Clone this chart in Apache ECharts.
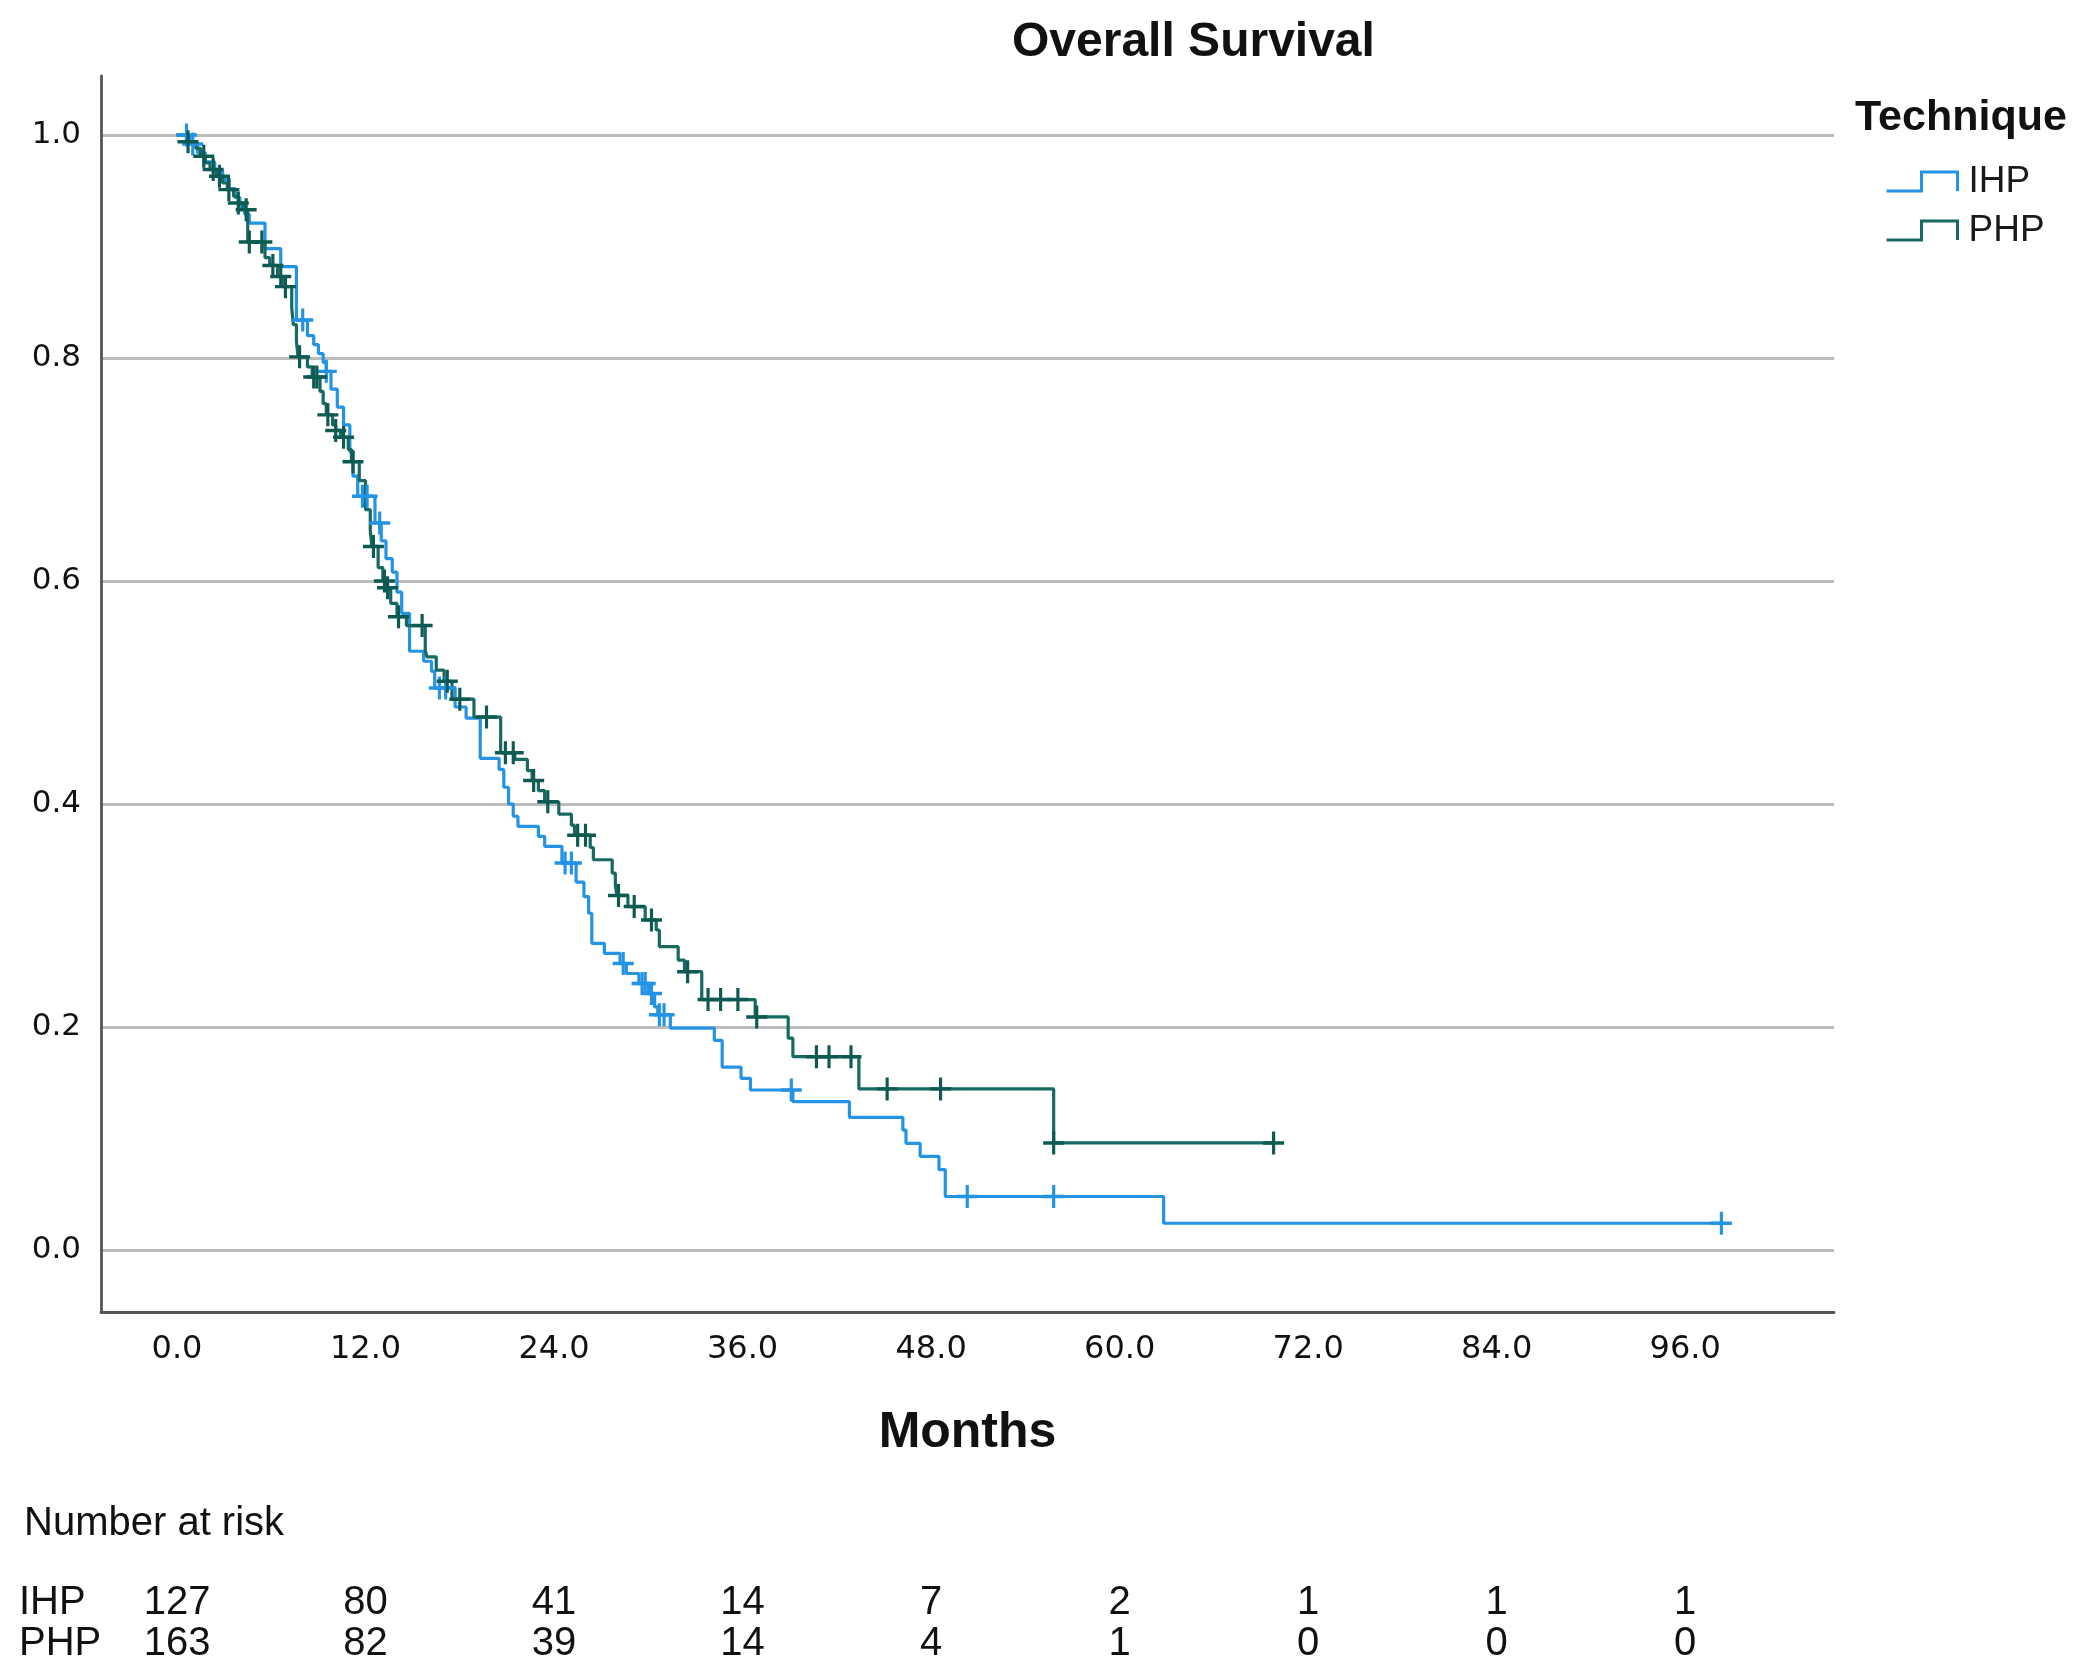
<!DOCTYPE html>
<html>
<head>
<meta charset="utf-8">
<script src="https://cdn.jsdelivr.net/npm/echarts@6/dist/echarts.min.js"></script>
<style>
html,body{margin:0;padding:0;background:#fff;}
#chart{width:2084px;height:1670px;}
</style>
</head>
<body>
<div id="chart"></div>
<script>
// ---- data ----
const timeTicks = [0, 12, 24, 36, 48, 60, 72, 84, 96];
const survTicks = [0, 0.2, 0.4, 0.6, 0.8, 1.0];
const groups = ['IHP', 'PHP'];

// Kaplan-Meier steps: [month, survival after event]
const ihpSteps = [
  [0,1],[0.8,0.992],[1.3,0.984],[1.8,0.976],[2.4,0.968],[2.9,0.960],[3.3,0.952],[3.7,0.944],
  [4.0,0.936],[4.3,0.929],[4.6,0.921],[5.6,0.898],[6.6,0.882],[7.6,0.834],[8.3,0.820],[8.7,0.812],
  [9.0,0.804],[9.3,0.796],[9.5,0.788],[9.8,0.772],[10.2,0.756],[10.6,0.740],[11.0,0.716],[11.2,0.694],
  [11.5,0.676],[12.6,0.652],[13.0,0.636],[13.3,0.620],[13.7,0.608],[14.0,0.590],[14.3,0.571],[14.8,0.537],
  [15.7,0.528],[16.2,0.519],[16.4,0.504],[17.7,0.487],[18.4,0.477],[19.3,0.441],[20.5,0.431],[20.8,0.415],
  [21.1,0.400],[21.4,0.389],[21.7,0.380],[23.0,0.371],[23.4,0.362],[24.5,0.347],[25.4,0.330],[25.9,0.317],
  [26.2,0.302],[26.4,0.275],[27.2,0.266],[28.2,0.257],[28.6,0.248],[29.4,0.239],[30.0,0.230],[30.4,0.218],
  [30.6,0.211],[31.4,0.199],[34.2,0.188],[34.7,0.164],[35.9,0.154],[36.5,0.1435],[39.2,0.133],[42.8,0.119],
  [46.2,0.1076],[46.4,0.0957],[47.3,0.084],[48.5,0.072],[48.9,0.048],[62.8,0.024],[98.3,0.024]
];
const ihpCensored = [
  [0.6,1.0],[1.0,0.992],[8.0,0.834],[9.5,0.788],[11.8,0.676],[12.1,0.676],[12.9,0.652],[16.7,0.504],
  [17.1,0.504],[24.7,0.347],[25.1,0.347],[28.4,0.257],[29.6,0.239],[29.8,0.239],[30.2,0.230],[30.7,0.211],
  [31.0,0.211],[39.1,0.1435],[50.3,0.048],[55.8,0.048],[98.3,0.024]
];
const phpSteps = [
  [0,1],[0.6,0.994],[1.2,0.988],[1.5,0.981],[1.8,0.975],[2.1,0.969],[2.5,0.963],[2.9,0.957],[3.2,0.951],
  [3.6,0.945],[3.9,0.939],[4.2,0.933],[4.5,0.904],[5.6,0.890],[5.9,0.883],[6.4,0.873],[6.7,0.864],[7.3,0.845],
  [7.4,0.830],[7.6,0.815],[7.7,0.801],[8.3,0.792],[8.6,0.783],[9.1,0.770],[9.3,0.759],[9.5,0.749],[9.9,0.740],
  [10.1,0.735],[10.4,0.729],[10.9,0.718],[11.1,0.707],[11.6,0.690],[12.0,0.664],[12.3,0.645],[12.4,0.631],
  [12.8,0.612],[13.1,0.600],[13.3,0.594],[13.6,0.580],[14.0,0.568],[14.6,0.560],[15.8,0.538],[15.9,0.532],
  [16.5,0.520],[17.0,0.510],[17.5,0.494],[18.9,0.478],[20.6,0.446],[21.5,0.440],[22.3,0.430],[22.6,0.421],
  [23.0,0.412],[23.4,0.402],[24.3,0.391],[25.1,0.381],[25.3,0.372],[26.3,0.361],[26.5,0.350],[27.7,0.338],
  [27.9,0.327],[28.0,0.318],[28.7,0.308],[29.8,0.296],[30.5,0.287],[30.7,0.272],[31.9,0.260],[32.3,0.2496],
  [33.4,0.2246],[36.8,0.209],[38.9,0.190],[39.2,0.1734],[43.4,0.1445],[55.8,0.096],[69.8,0.096]
];
const phpCensored = [
  [0.7,0.994],[1.7,0.981],[2.3,0.969],[2.7,0.963],[3.3,0.951],[3.9,0.939],[4.4,0.933],[4.6,0.904],[5.4,0.904],
  [6.1,0.883],[6.6,0.873],[6.9,0.864],[7.8,0.801],[8.7,0.783],[8.9,0.783],[9.6,0.749],[10.1,0.735],[10.6,0.729],
  [11.2,0.707],[12.5,0.631],[13.2,0.600],[13.4,0.594],[14.1,0.568],[15.6,0.560],[17.2,0.510],[18.0,0.494],
  [19.7,0.478],[20.9,0.446],[21.4,0.446],[22.7,0.421],[23.6,0.402],[25.5,0.372],[26.0,0.372],[28.1,0.318],
  [29.1,0.308],[30.2,0.296],[32.5,0.2496],[33.8,0.2246],[34.6,0.2246],[35.7,0.2246],[36.9,0.209],[40.7,0.1734],
  [41.5,0.1734],[42.9,0.1734],[45.2,0.1445],[48.6,0.1445],[55.8,0.096],[69.8,0.096]
];

// Number at risk, one value per time tick
const ihpAtRisk = [127, 80, 41, 14, 7, 2, 1, 1, 1];
const phpAtRisk = [163, 82, 39, 14, 4, 1, 0, 0, 0];

// ---- styling ----
const IHP_COLOR = '#2393e6';
const PHP_LINE = '#176962';
const PHP_MARK = '#0c5a52';
const TEXT = '#111111';
const CROSS = 'path://M8.5,0 L11.5,0 L11.5,8.5 L20,8.5 L20,11.5 L11.5,11.5 L11.5,20 L8.5,20 L8.5,11.5 L0,11.5 L0,8.5 L8.5,8.5 Z';
const STEP_ICON = 'path://M0,19 L35,19 L35,0 L71,0 L71,19';

const riskData = [];
timeTicks.forEach((t, i) => {
  riskData.push([t, 'IHP', ihpAtRisk[i]]);
  riskData.push([t, 'PHP', phpAtRisk[i]]);
});

const X_MIN = -4.84, X_MAX = 105.47;

const chart = echarts.init(document.getElementById('chart'), null, {renderer: 'canvas'});
chart.setOption({
  animation: false,
  backgroundColor: '#ffffff',
  title: [
    {text: 'Overall Survival', left: 1007, top: 14,
     textStyle: {fontFamily: 'Liberation Sans', fontWeight: 'bold', fontSize: 48, color: TEXT}},
    {text: 'Technique', left: 1850, top: 92,
     textStyle: {fontFamily: 'Liberation Sans', fontWeight: 'bold', fontSize: 43, color: TEXT}},
    {text: 'Number at risk', left: 19, top: 1499,
     textStyle: {fontFamily: 'Liberation Sans', fontWeight: 'normal', fontSize: 40, color: TEXT}}
  ],
  legend: {
    orient: 'vertical', left: 1880, top: 158, itemGap: 12,
    itemWidth: 71, itemHeight: 19,
    textStyle: {fontFamily: 'Liberation Sans', fontSize: 37, color: '#1a1a1a', padding: [0, 0, 0, 6]},
    data: [
      {name: 'IHP', icon: STEP_ICON, itemStyle: {color: 'rgba(0,0,0,0)', borderColor: IHP_COLOR, borderWidth: 3}},
      {name: 'PHP', icon: STEP_ICON, itemStyle: {color: 'rgba(0,0,0,0)', borderColor: PHP_LINE, borderWidth: 3}}
    ],
    selectedMode: false
  },
  grid: [
    {left: 101, right: 250, top: 76, height: 1236},
    {left: 101, right: 250, top: 1582, height: 82}
  ],
  xAxis: [
    {type: 'value', gridIndex: 0, min: X_MIN, max: X_MAX,
     name: 'Months', nameLocation: 'middle', nameGap: 96,
     nameTextStyle: {fontFamily: 'Liberation Sans', fontWeight: 'bold', fontSize: 50, color: TEXT},
     axisLine: {show: true, onZero: false, lineStyle: {color: '#555555', width: 2.8}},
     axisTick: {show: false, customValues: timeTicks},
     axisLabel: {customValues: timeTicks, margin: 22, formatter: v => v.toFixed(1),
                 fontFamily: 'DejaVu Sans', fontSize: 32, color: TEXT},
     splitLine: {show: false}},
    {type: 'value', gridIndex: 1, min: X_MIN, max: X_MAX, show: false}
  ],
  yAxis: [
    {type: 'value', gridIndex: 0, min: -0.0556, max: 1.0529,
     axisLine: {show: true, onZero: false, lineStyle: {color: '#555555', width: 2.8}},
     axisTick: {show: false, customValues: survTicks},
     axisLabel: {customValues: survTicks, margin: 20, formatter: v => v.toFixed(1),
                 fontFamily: 'DejaVu Sans', fontSize: 31, color: TEXT},
     splitLine: {show: true, lineStyle: {color: '#bdbdbd', width: 3}}},
    {type: 'category', gridIndex: 1, data: groups, inverse: true,
     axisLine: {show: false}, axisTick: {show: false}, splitLine: {show: false},
     axisLabel: {interval: 0, hideOverlap: false, align: 'left', margin: 82,
                 fontFamily: 'Liberation Sans', fontSize: 40, color: TEXT}}
  ],
  series: [
    {name: 'IHP', type: 'scatter', xAxisIndex: 0, yAxisIndex: 0, data: ihpCensored,
     symbol: CROSS, symbolSize: [21, 23], z: 4,
     itemStyle: {color: IHP_COLOR, opacity: 1}},
    {name: 'PHP', type: 'scatter', xAxisIndex: 0, yAxisIndex: 0, data: phpCensored,
     symbol: CROSS, symbolSize: [21, 23], z: 5,
     itemStyle: {color: PHP_MARK, opacity: 1}},
    {name: 'IHP', type: 'line', xAxisIndex: 0, yAxisIndex: 0, data: ihpSteps, step: 'end',
     showSymbol: false, symbol: 'none', z: 2,
     lineStyle: {color: IHP_COLOR, width: 3.2}},
    {name: 'PHP', type: 'line', xAxisIndex: 0, yAxisIndex: 0, data: phpSteps, step: 'end',
     showSymbol: false, symbol: 'none', z: 3,
     lineStyle: {color: PHP_LINE, width: 3.2}},
    {name: 'risk', type: 'scatter', xAxisIndex: 1, yAxisIndex: 1, data: riskData,
     symbolSize: 1, itemStyle: {color: 'rgba(0,0,0,0)'}, silent: true,
     label: {show: true, position: 'inside', formatter: p => String(p.value[2]),
             fontFamily: 'Liberation Sans', fontSize: 40, color: TEXT, opacity: 1}}
  ]
});
</script>
</body>
</html>
